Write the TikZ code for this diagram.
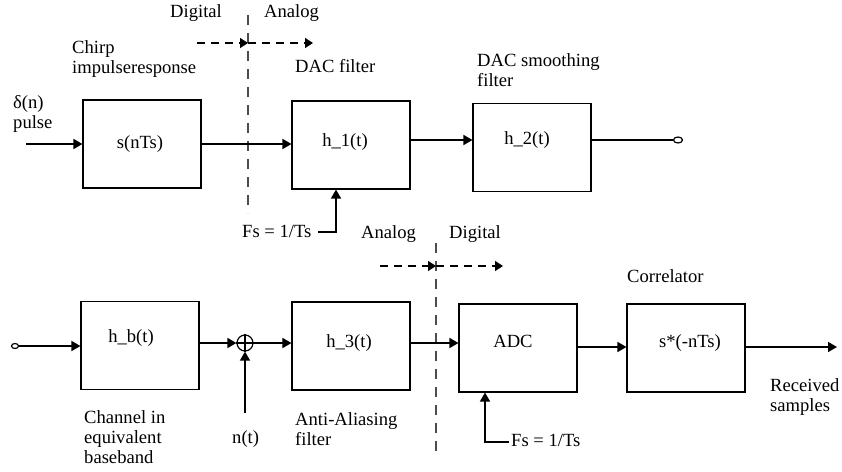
\documentclass[tikz,border=0pt]{standalone}
\usepackage{fontspec}
\setmainfont{Liberation Serif}
\usetikzlibrary{arrows.meta,shapes.geometric}
\begin{document}
\begin{tikzpicture}[x=1pt,y=-1pt,
 font=\fontsize{18.6}{20}\selectfont,
 blk/.style={draw, line width=1.1pt, minimum width=118pt, minimum height=88pt, inner sep=0pt},
 sig/.style={line width=1.6pt, -{Triangle[length=9pt,width=10pt]}},
 wire/.style={line width=1.6pt},
 vdash/.style={line width=1.1pt, draw=black!70, dash pattern=on 10pt off 8pt},
 hdash/.style={line width=1.3pt, dash pattern=on 8pt off 6pt, -{Triangle[length=8pt,width=10pt]}},
 lbl/.style={anchor=base west, inner sep=0pt},
 ctr/.style={anchor=center, inner sep=0pt},
 term/.style={draw, line width=1.2pt, ellipse, minimum width=9pt, minimum height=6pt, inner sep=0pt}]
\useasboundingbox (0,0) rectangle (842,471);
% blocks
\node[blk] (s) at (142,144) {};
\node[blk] (h1) at (351,145) {};
\node[blk] (h2) at (532,147.5) {};
\node[blk] (hb) at (140,345.5) {};
\node[blk] (h3) at (351,346) {};
\node[blk] (adc) at (518,348) {};
\node[blk] (cor) at (686,348) {};
% block texts
\node[ctr] (ts) at (140,144) {s(nTs)};
\node[ctr] (th1) at (345,142) {h\_1(t)};
\node[ctr] (th2) at (527,140) {h\_2(t)};
\node[ctr] (thb) at (131,338) {h\_b(t)};
\node[ctr] (th3) at (349,343) {h\_3(t)};
\node[ctr] (tadc) at (513,341) {ADC};
\node[ctr] (tcor) at (690,343) {s*(-nTs)};
% labels
\node[lbl] (ldig1) at (170,17) {Digital};
\node[lbl] (lana1) at (264,17) {Analog};
\node[lbl] (lch1) at (72,53) {Chirp};
\node[lbl] (lch2) at (72,73) {impulseresponse};
\node[lbl] (ld1) at (13,108) {δ(n)};
\node[lbl] (ld2) at (13,128) {pulse};
\node[lbl] (ldac) at (295,72) {DAC filter};
\node[lbl] (lsm1) at (477,66) {DAC smoothing};
\node[lbl] (lsm2) at (477,86) {filter};
\node[lbl] (lfs1) at (242,237) {Fs = 1/Ts};
\node[lbl] (lana2) at (361,238) {Analog};
\node[lbl] (ldig2) at (449,238) {Digital};
\node[lbl] (lcor) at (627,282) {Correlator};
\node[lbl] (lrc1) at (770,391) {Received};
\node[lbl] (lrc2) at (770,411) {samples};
\node[lbl] (lfs2) at (511,446) {Fs = 1/Ts};
\node[lbl] (lcb1) at (84,423) {Channel in};
\node[lbl] (lcb2) at (84,443) {equivalent};
\node[lbl] (lcb3) at (84,463) {baseband};
\node[lbl] (lnt) at (232,443) {n(t)};
\node[lbl] (laa1) at (295,425) {Anti-Aliasing};
\node[lbl] (laa2) at (295,445) {filter};
% dashed boundaries
\coordinate (v1a) at (248,15); \coordinate (v1b) at (248,213);
\coordinate (v2a) at (436,243); \coordinate (v2b) at (436,453);
\draw[vdash] (v1a) -- (v1b);
\draw[vdash] (v2a) -- (v2b);
\coordinate (d1a) at (197,43); \coordinate (d1m) at (248,43); \coordinate (d1b) at (313,43);
\draw[hdash] (d1a) -- (d1m);
\draw[hdash] (d1m) -- (d1b);
\coordinate (d2a) at (380,266); \coordinate (d2m) at (436,266); \coordinate (d2b) at (503,266);
\draw[hdash] (d2a) -- (d2m);
\draw[hdash] (d2m) -- (d2b);
% top row connectors
\coordinate (in) at (26,144);
\draw[sig] (in) -- (s.west);
\draw[sig] (s.east) -- (s.east -| h1.west);
\draw[sig] ([yshift=5pt]h1.east) -- ([yshift=5pt]h1.east -| h2.west);
\node[term] (o1) at (678,140) {};
\draw[wire] ([yshift=7.5pt]h2.east) -- (o1.west);
\coordinate (fs1) at (318,232);
\draw[sig] (fs1) -| ([xshift=-15pt]h1.south);
% bottom row connectors
\node[term, minimum width=7pt, minimum height=5pt] (i2) at (15,346) {};
\draw[sig] (i2.east) -- (i2.east -| hb.west);
\node[draw, circle, line width=1.2pt, minimum size=16pt, inner sep=0pt] (sum) at (245,343) {};
\draw[line width=1.1pt] (sum.north) -- (sum.south) (sum.west) -- (sum.east);
\draw[sig] (hb.east |- sum.west) -- (sum.west);
\coordinate (nt) at (245,413);
\draw[sig] (nt) -- (sum.south);
\draw[sig] (sum.east) -- (sum.east -| h3.west);
\draw[sig] ([yshift=3pt]h3.east) -- ([yshift=3pt]h3.east -| adc.west);
\draw[sig] ([yshift=1pt]adc.east) -- ([yshift=1pt]adc.east -| cor.west);
\coordinate (out) at (837,347);
\draw[sig] ([yshift=1pt]cor.east) -- (out);
\coordinate (fs2) at (509,442);
\draw[sig] (fs2) -| ([xshift=-33pt]adc.south);
\end{tikzpicture}
\end{document}
